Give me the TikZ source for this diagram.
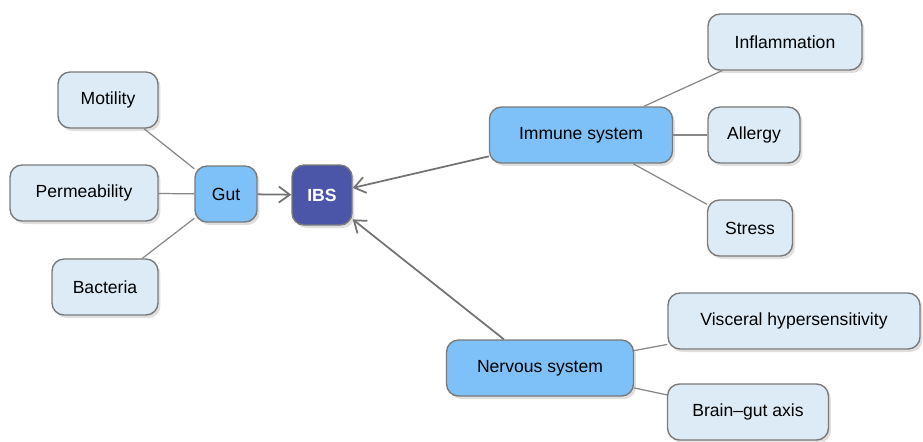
\documentclass[tikz,border=0pt]{standalone}
\usepackage{fontspec}
\setmainfont{Liberation Sans}
\usetikzlibrary{arrows.meta,shadows}
\definecolor{leaffill}{HTML}{DCEBF6}
\definecolor{midfill}{HTML}{7DC1F8}
\definecolor{ibsfill}{HTML}{4B56A8}
\definecolor{edgegrey}{HTML}{7A7A7A}
\tikzset{
  box/.style={draw=edgegrey, line width=0.8pt, rounded corners=0.24cm,
    minimum height=1.12cm, font=\fontsize{10}{12}\selectfont, text=black,
    drop shadow={shadow xshift=0.05cm, shadow yshift=-0.06cm, opacity=0.25}},
  leaf/.style={box, fill=leaffill},
  hub/.style={box, fill=midfill},
  link/.style={draw=edgegrey!90, line width=0.7pt},
  feed/.style={draw=black!55, line width=1pt, -{Straight Barb[length=2.2mm,width=3.2mm]}}
}
\begin{document}
\begin{tikzpicture}[x=0.02cm, y=-0.02cm]
  \useasboundingbox (0,0) rectangle (923,441);
  % left branch
  \node[leaf, minimum width=2cm] (motility) at (108,100) {Motility};
  \node[leaf, minimum width=2.96cm] (perm) at (84,193) {Permeability};
  \node[leaf, minimum width=2.12cm] (bact) at (105,287) {Bacteria};
  \node[hub, minimum width=1.24cm] (gut) at (226,194) {Gut};
  \node[box, fill=ibsfill, text=white, font=\fontsize{10}{12}\selectfont\bfseries,
        minimum width=1.2cm, minimum height=1.2cm] (ibs) at (322,195) {IBS};
  % right branches
  \node[hub, minimum width=3.66cm] (immune) at (581,135) {Immune system};
  \node[leaf, minimum width=3.08cm] (infl) at (785,42) {Inflammation};
  \node[leaf, minimum width=1.84cm] (allergy) at (754,135) {Allergy};
  \node[leaf, minimum width=1.7cm] (stress) at (750,228) {Stress};
  \node[hub, minimum width=3.74cm] (nervous) at (540,368) {Nervous system};
  \node[leaf, minimum width=5.04cm] (visceral) at (794,321) {Visceral hypersensitivity};
  \node[leaf, minimum width=3.22cm] (brain) at (748,412) {Brain--gut axis};
  % connectors
  \draw[link] (motility) -- (gut);
  \draw[link] (perm) -- (gut);
  \draw[link] (bact) -- (gut);
  \draw[link] (immune) -- (infl);
  \draw[link] (immune) -- (allergy);
  \draw[link] (immune) -- (stress);
  \draw[link] (nervous) -- (visceral);
  \draw[link] (nervous) -- (brain);
  \draw[feed] (gut) -- (ibs);
  \draw[feed] (immune) -- (ibs);
  \draw[feed] (nervous) -- (ibs);
\end{tikzpicture}
\end{document}
